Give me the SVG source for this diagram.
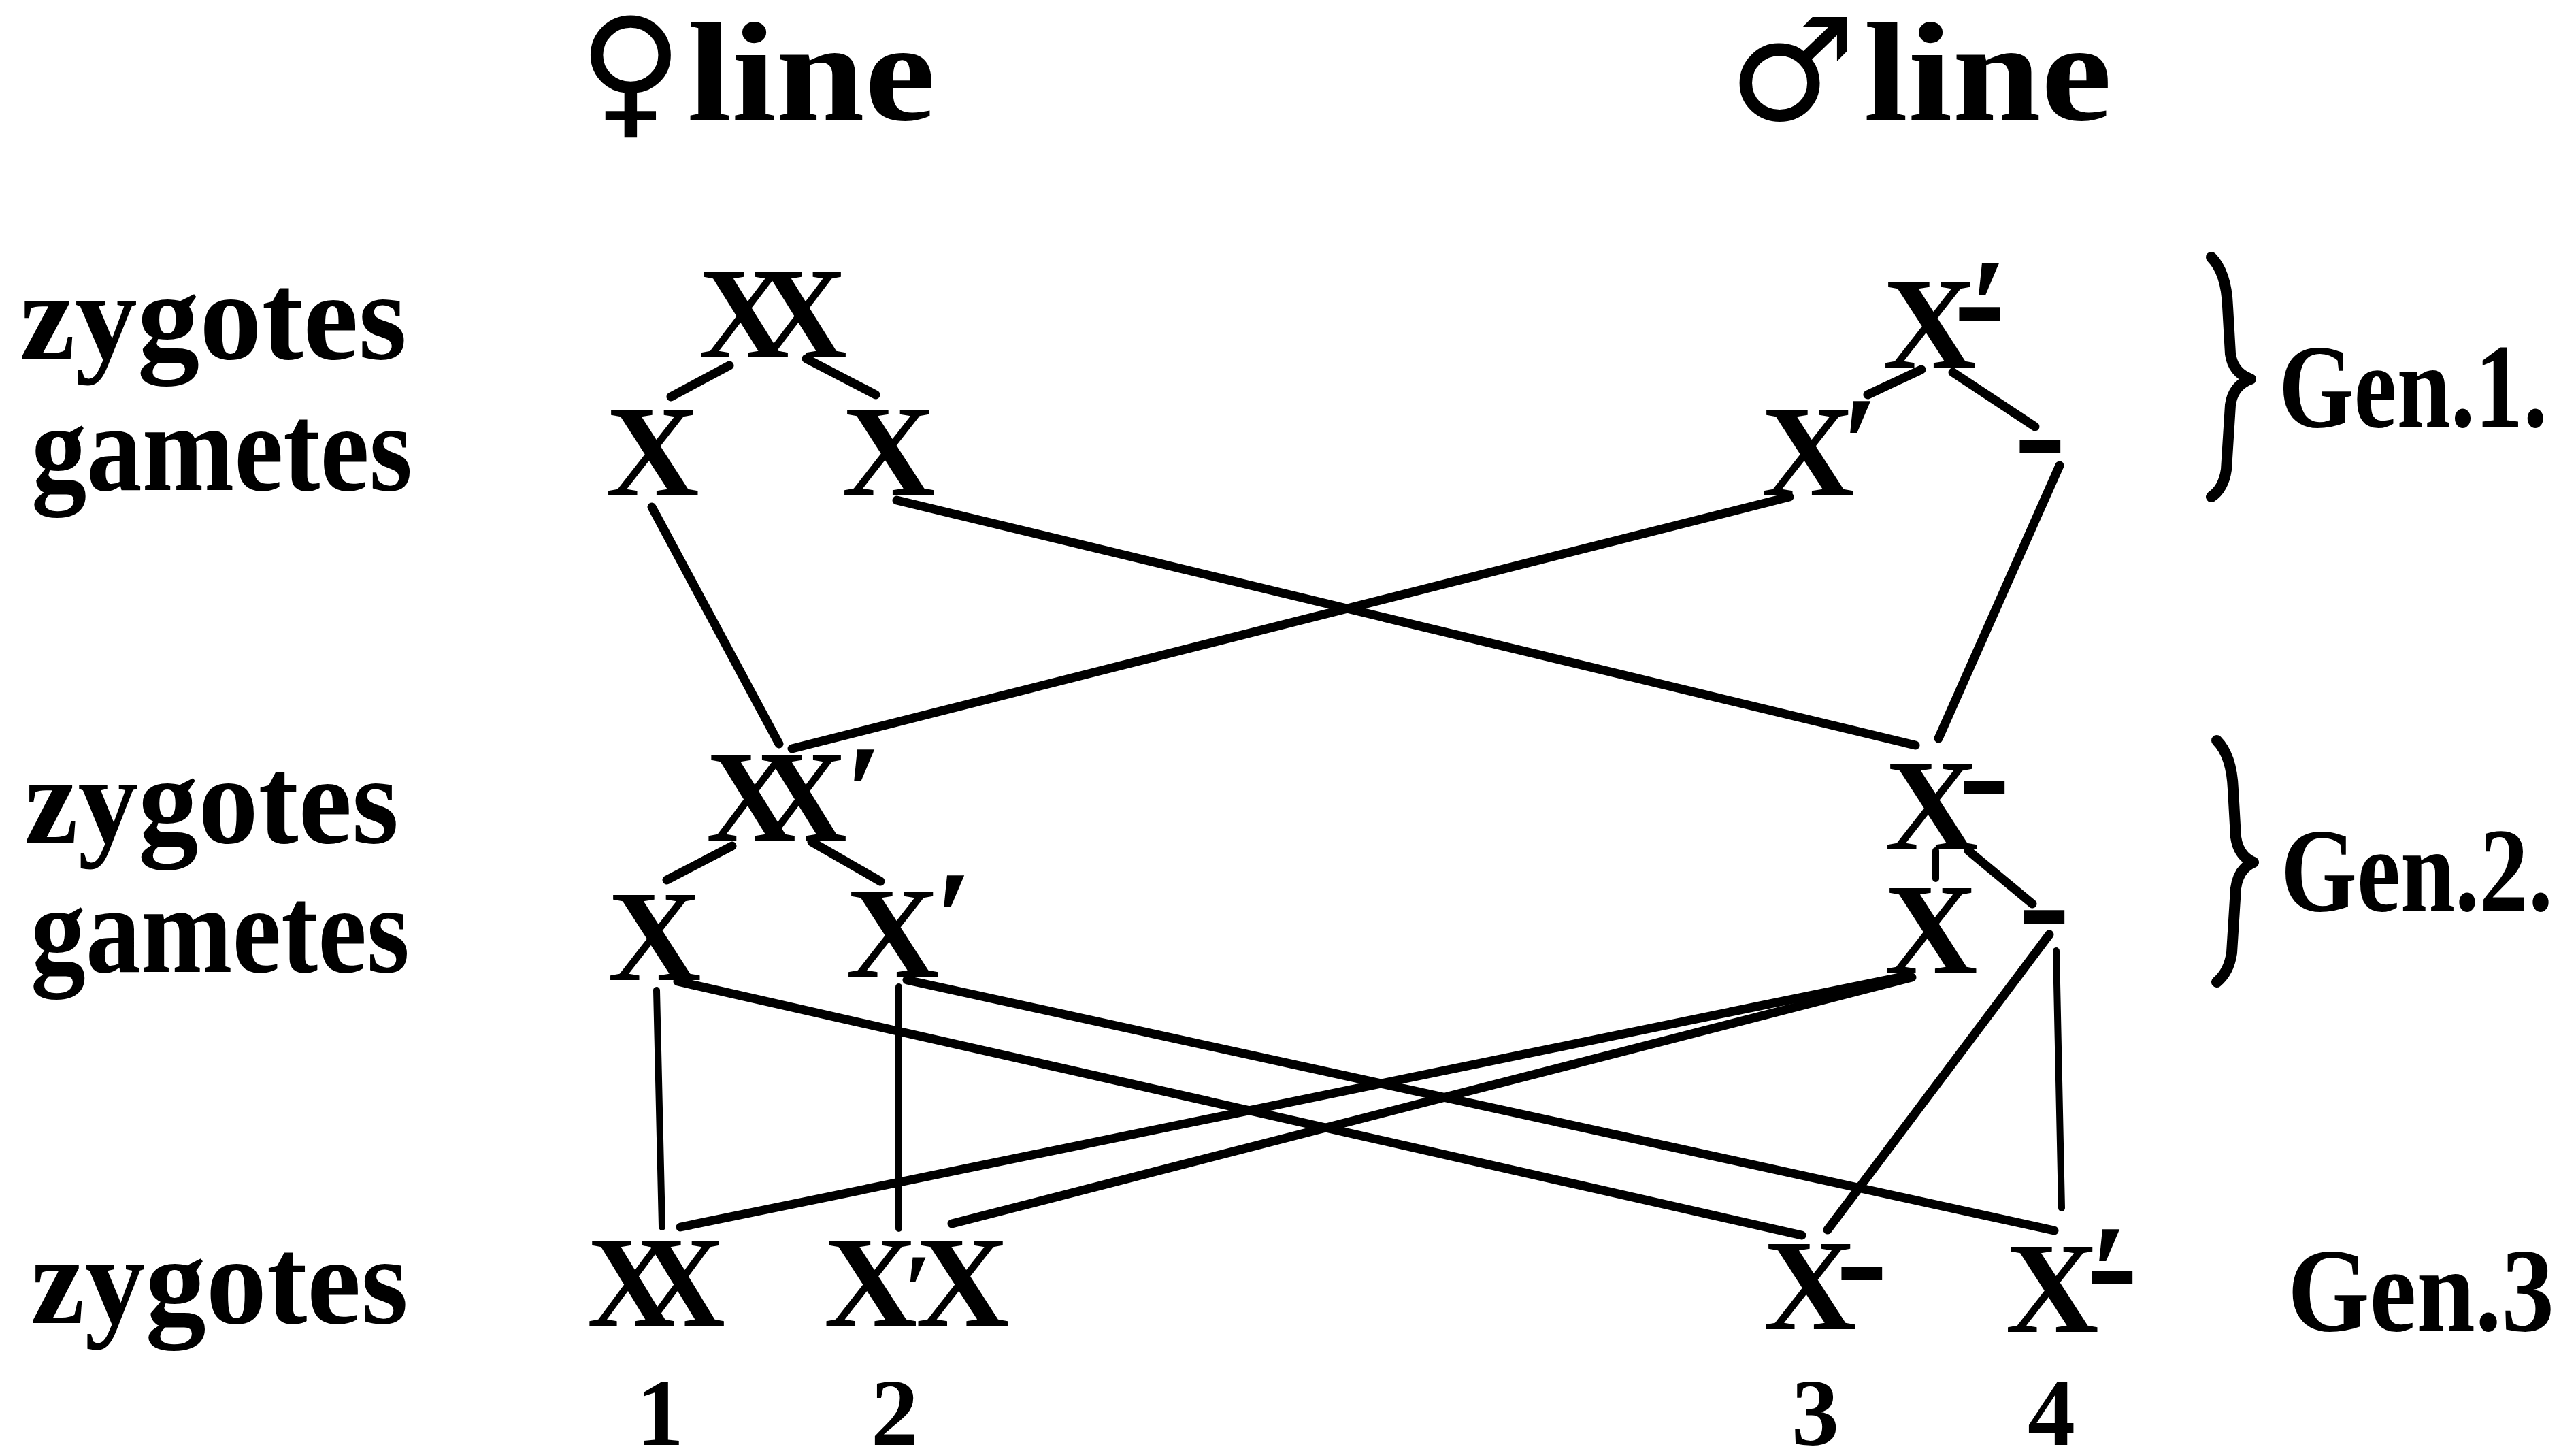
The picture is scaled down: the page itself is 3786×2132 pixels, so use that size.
<svg xmlns="http://www.w3.org/2000/svg" width="3786" height="2132" viewBox="0 0 3786 2132">
<style>
.lbl{font-family:"Liberation Serif",serif;font-weight:bold;font-size:185px;fill:#000}
.ttl{font-family:"Liberation Serif",serif;font-weight:bold;font-size:207px;fill:#000}
.sym{font-family:"DejaVu Sans",sans-serif;font-size:210px;fill:#000}
.gen{font-family:"Liberation Serif",serif;font-weight:bold;font-size:176px;fill:#000}
.num{font-family:"Liberation Serif",serif;font-weight:bold;font-size:140px;fill:#000}
.x{font-family:"Liberation Serif",serif;font-weight:bold;font-size:190px;fill:#000}
.xm{font-family:"Liberation Serif",serif;font-weight:bold;font-size:190px;fill:#000;text-anchor:middle}
.pr{font-family:"Liberation Serif",serif;font-weight:bold;font-size:200px;fill:#000}
.ds{font-family:"Liberation Serif",serif;font-weight:bold;font-size:230px;fill:#000}
.c{stroke:#000;stroke-width:13;stroke-linecap:round;fill:none}
.v{stroke:#000;stroke-width:10;stroke-linecap:round;fill:none}
.br{stroke:#000;stroke-width:16;stroke-linecap:round;stroke-linejoin:round;fill:none}
</style>

<g id="titles">
  <text class="sym" x="850" y="176">♀</text>
  <text class="ttl" x="1010" y="176" textLength="365" lengthAdjust="spacingAndGlyphs">line</text>
  <text class="sym" x="2540" y="176">♂</text>
  <text class="ttl" x="2739" y="176" textLength="365" lengthAdjust="spacingAndGlyphs">line</text>
</g>

<g id="row-labels">
  <text class="lbl" x="29" y="527" textLength="569" lengthAdjust="spacingAndGlyphs">zygotes</text>
  <text class="lbl" x="46" y="720" textLength="560" lengthAdjust="spacingAndGlyphs">gametes</text>
  <text class="lbl" x="36" y="1238" textLength="550" lengthAdjust="spacingAndGlyphs">zygotes</text>
  <text class="lbl" x="45" y="1428" textLength="557" lengthAdjust="spacingAndGlyphs">gametes</text>
  <text class="lbl" x="45" y="1944" textLength="555" lengthAdjust="spacingAndGlyphs">zygotes</text>
</g>

<g id="generations">
  <path class="br" d="M3250 378 Q3272 400 3274 450 L3278 520 Q3282 548 3308 557 Q3282 566 3278 595 L3272 690 Q3268 718 3250 730"/>
  <text class="gen" x="3349" y="627" textLength="395" lengthAdjust="spacingAndGlyphs">Gen.1.</text>
  <path class="br" d="M3258 1088 Q3280 1110 3282 1160 L3286 1230 Q3290 1258 3312 1267 Q3290 1276 3286 1305 L3280 1400 Q3276 1428 3258 1443"/>
  <text class="gen" x="3352" y="1338" textLength="400" lengthAdjust="spacingAndGlyphs">Gen.2.</text>
  <text class="gen" x="3362" y="1955" textLength="392" lengthAdjust="spacingAndGlyphs">Gen.3</text>
</g>

<g id="connectors">
  <line class="c" x1="1072" y1="537" x2="986" y2="583"/>
  <line class="c" x1="1185" y1="527" x2="1287" y2="580"/>
  <line class="c" x1="2824" y1="543" x2="2745" y2="580"/>
  <line class="c" x1="2870" y1="547" x2="2991" y2="627"/>
  <line class="c" x1="958" y1="745" x2="1145" y2="1093"/>
  <line class="c" x1="1318" y1="735" x2="2815" y2="1095"/>
  <line class="c" x1="2630" y1="730" x2="1164" y2="1100"/>
  <line class="c" x1="3027" y1="684" x2="2849" y2="1085"/>
  <line class="c" x1="1076" y1="1243" x2="980" y2="1293"/>
  <line class="c" x1="1193" y1="1237" x2="1294" y2="1295"/>
  <line class="v" x1="2845" y1="1250" x2="2845" y2="1291"/>
  <line class="c" x1="2893" y1="1250" x2="2987" y2="1328"/>
  <line class="v" x1="965" y1="1455" x2="973" y2="1803"/>
  <line class="c" x1="996" y1="1442" x2="2648" y2="1815"/>
  <line class="v" x1="1321" y1="1450" x2="1321" y2="1805"/>
  <line class="c" x1="1333" y1="1440" x2="3019" y2="1808"/>
  <line class="c" x1="2806" y1="1433" x2="1000" y2="1803"/>
  <line class="c" x1="2810" y1="1436" x2="1399" y2="1798"/>
  <line class="c" x1="3012" y1="1373" x2="2686" y2="1807"/>
  <line class="v" x1="3022" y1="1397" x2="3030" y2="1775"/>
</g>

<g id="g1-female-zygote">
  <text class="x" x="1027" y="525" textLength="133" lengthAdjust="spacingAndGlyphs">X</text>
  <text class="x" x="1112" y="525" textLength="133" lengthAdjust="spacingAndGlyphs">X</text>
</g>
<g id="g1-female-gamete-1"><text class="xm" x="959" y="728">X</text></g>
<g id="g1-female-gamete-2"><text class="xm" x="1306" y="727">X</text></g>

<g id="g1-male-zygote">
  <text class="xm" x="2836" y="540">X</text>
  <text class="pr" x="2895" y="517">′</text>
  <text class="ds" x="2871" y="516">-</text>
</g>
<g id="g1-male-gamete-1">
  <text class="xm" x="2657" y="728">X</text>
  <text class="pr" x="2706" y="720">′</text>
</g>
<g id="g1-male-gamete-2"><text class="ds" x="2960" y="711">-</text></g>

<g id="g2-female-zygote">
  <text class="x" x="1038" y="1235" textLength="132" lengthAdjust="spacingAndGlyphs">X</text>
  <text class="x" x="1113" y="1235" textLength="132" lengthAdjust="spacingAndGlyphs">X</text>
  <text class="pr" x="1242" y="1232">′</text>
</g>
<g id="g2-female-gamete-1"><text class="xm" x="962" y="1440">X</text></g>
<g id="g2-female-gamete-2">
  <text class="xm" x="1312" y="1435">X</text>
  <text class="pr" x="1374" y="1417">′</text>
</g>

<g id="g2-male-zygote">
  <text class="xm" x="2839" y="1248">X</text>
  <text class="ds" x="2878" y="1212">-</text>
</g>
<g id="g2-male-gamete-1"><text class="xm" x="2838" y="1430">X</text></g>
<g id="g2-male-gamete-2"><text class="ds" x="2966" y="1402">-</text></g>

<g id="g3-zygote-1">
  <text class="x" x="863" y="1948" textLength="130" lengthAdjust="spacingAndGlyphs">X</text>
  <text class="x" x="936" y="1948" textLength="130" lengthAdjust="spacingAndGlyphs">X</text>
  <text class="num" x="935" y="2123">1</text>
</g>
<g id="g3-zygote-2">
  <text class="x" x="1211" y="1948">X</text>
  <text class="pr" x="1328" y="1946" style="font-size:150px">′</text>
  <text class="x" x="1346" y="1948">X</text>
  <text class="num" x="1280" y="2123">2</text>
</g>
<g id="g3-zygote-3">
  <text class="xm" x="2660" y="1953">X</text>
  <text class="ds" x="2698" y="1926">-</text>
  <text class="num" x="2633" y="2123">3</text>
</g>
<g id="g3-zygote-4">
  <text class="xm" x="3016" y="1957">X</text>
  <text class="pr" x="3072" y="1937">′</text>
  <text class="ds" x="3066" y="1932">-</text>
  <text class="num" x="2980" y="2123">4</text>
</g>
</svg>
